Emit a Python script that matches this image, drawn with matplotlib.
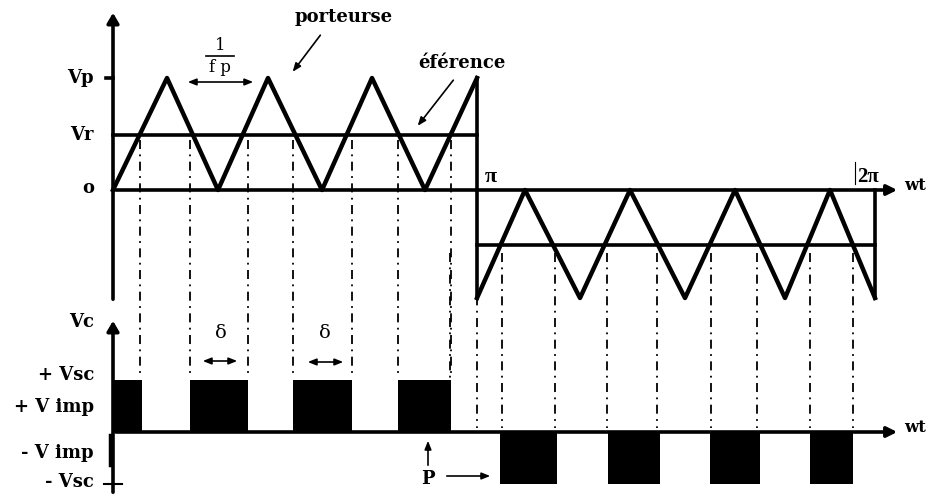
import numpy as np
import matplotlib.pyplot as plt

# carrier (triangle) vertices, first half-period then second half-period
top_x = [113, 167, 218, 268, 322, 372, 425, 477]
top_y = [190, 78, 190, 78, 190, 78, 190, 78]
bot_x = [477, 525, 580, 630, 685, 735, 785, 830, 875]
bot_y = [298, 190, 298, 190, 298, 190, 298, 190, 298]

# reference levels
vr_top = 135
vr_bot = 245
zero_top = 190
zero_bot = 432
vsc = 380
neg_vsc = 484

# pulse intervals (start, end)
pos_pulses = [(113, 142), (190, 248), (293, 352), (398, 451)]
neg_pulses = [(500, 557), (608, 660), (710, 760), (810, 853)]

# projection lines from carrier/reference crossings
proj_top = [140, 190, 248, 293, 352, 398, 451]
proj_bot = [450, 477, 502, 555, 607, 657, 711, 757, 810, 853]

fig = plt.figure(figsize=(9.36, 4.95), dpi=100)
ax = fig.add_axes([0, 0, 1, 1])
ax.set_xlim(0, 936)
ax.set_ylim(495, 0)
ax.axis('off')

lw = 2.6
k = 'black'
bold = dict(family='DejaVu Serif', fontweight='bold', color=k)
thin = dict(family='DejaVu Serif', color=k)
greek = dict(family='Liberation Serif', fontweight='bold', color=k)

# dash-dot projection lines
for x in proj_top:
    ax.plot([x, x], [vr_top + 5, vsc - 6], color=k, lw=1.3, ls=(0, (5, 3, 1, 3)))
for x in proj_bot:
    ax.plot([x, x], [vr_bot + 8, zero_bot - 4], color=k, lw=1.3, ls=(0, (5, 3, 1, 3)))

# axes of upper plot
ax.annotate('', xy=(113, 10), xytext=(113, 302),
            arrowprops=dict(arrowstyle='-|>,head_width=0.35,head_length=0.6', color=k, lw=lw))
ax.annotate('', xy=(900, zero_top), xytext=(113, zero_top),
            arrowprops=dict(arrowstyle='-|>,head_width=0.3,head_length=0.6', color=k, lw=lw))
ax.plot([106, 113], [78, 78], color=k, lw=lw)

# carrier and reference
ax.plot(top_x, top_y, color=k, lw=lw + 0.6)
ax.plot(bot_x, bot_y, color=k, lw=lw + 0.6)
ax.plot([113, 477], [vr_top, vr_top], color=k, lw=lw)
ax.plot([477, 875], [vr_bot, vr_bot], color=k, lw=lw)
ax.plot([477, 477], [78, 298], color=k, lw=lw)
ax.plot([875, 875], [zero_top, 298], color=k, lw=lw)
ax.plot([855, 855], [162, 184], color=k, lw=0.8)

# lower plot axes
ax.annotate('', xy=(113, 318), xytext=(113, 495),
            arrowprops=dict(arrowstyle='-|>,head_width=0.35,head_length=0.6', color=k, lw=lw))
ax.annotate('', xy=(900, zero_bot), xytext=(113, zero_bot),
            arrowprops=dict(arrowstyle='-|>,head_width=0.3,head_length=0.6', color=k, lw=lw))
ax.plot([104, 122], [neg_vsc, neg_vsc], color=k, lw=1.5)
ax.plot([110, 110], [435, 465], color=k, lw=2.5)

# pulses
for a, b in pos_pulses:
    ax.fill_between([a, b], vsc, zero_bot, color=k, lw=0)
for a, b in neg_pulses:
    ax.fill_between([a, b], zero_bot, neg_vsc, color=k, lw=0)

# labels
fs = 13
ax.text(94, 78, 'Vp', ha='right', va='center', fontsize=fs, **bold)
ax.text(94, 135, 'Vr', ha='right', va='center', fontsize=fs, **bold)
ax.text(94, 188, 'o', ha='right', va='center', fontsize=fs, **bold)
ax.text(344, 17, 'porteurse', ha='center', va='center', fontsize=fs, **bold)
ax.text(462, 63, 'éférence', ha='center', va='center', fontsize=fs, **bold)
ax.text(904, 185, 'wt', ha='left', va='center', fontsize=fs - 1, **bold)
ax.text(485, 177, 'π', ha='left', va='center', fontsize=fs + 3, **greek)
ax.text(857, 177, '2π', ha='left', va='center', fontsize=fs + 2, **greek)
ax.text(904, 428, 'wt', ha='left', va='center', fontsize=fs - 1, **bold)
ax.text(94, 322, 'Vc', ha='right', va='center', fontsize=fs, **bold)
ax.text(94, 375, '+ Vsc', ha='right', va='center', fontsize=fs, **bold)
ax.text(94, 407, '+ V imp', ha='right', va='center', fontsize=fs, **bold)
ax.text(94, 453, '- V imp', ha='right', va='center', fontsize=fs, **bold)
ax.text(94, 482, '- Vsc', ha='right', va='center', fontsize=fs, **bold)
ax.text(428, 479, 'P', ha='center', va='center', fontsize=fs, **bold)

# 1/fp and delta annotations
ax.text(220, 45, '1', ha='center', va='center', fontsize=12, **thin)
ax.plot([206, 234], [56, 56], color=k, lw=1.2)
ax.text(220, 68, 'f p', ha='center', va='center', fontsize=12, **thin)
dbl = dict(arrowstyle='<|-|>,head_width=0.2,head_length=0.5', color=k, lw=1.2)
ax.annotate('', xy=(185, 82), xytext=(256, 82), arrowprops=dbl)
ax.text(221, 333, 'δ', ha='center', va='center', fontsize=14, **thin)
ax.annotate('', xy=(200, 361), xytext=(240, 361), arrowprops=dbl)
ax.text(325, 333, 'δ', ha='center', va='center', fontsize=14, **thin)
ax.annotate('', xy=(305, 362), xytext=(346, 362), arrowprops=dbl)

# pointer arrows
ptr = dict(arrowstyle='-|>,head_width=0.2,head_length=0.5', color=k, lw=1.2)
ax.annotate('', xy=(291, 74), xytext=(322, 33), arrowprops=ptr)
ax.annotate('', xy=(416, 128), xytext=(455, 78), arrowprops=ptr)
ax.annotate('', xy=(428, 438), xytext=(428, 468), arrowprops=ptr)
ax.annotate('', xy=(493, 476), xytext=(444, 476), arrowprops=ptr)

fig.savefig('out.png', dpi=100, facecolor='white')
